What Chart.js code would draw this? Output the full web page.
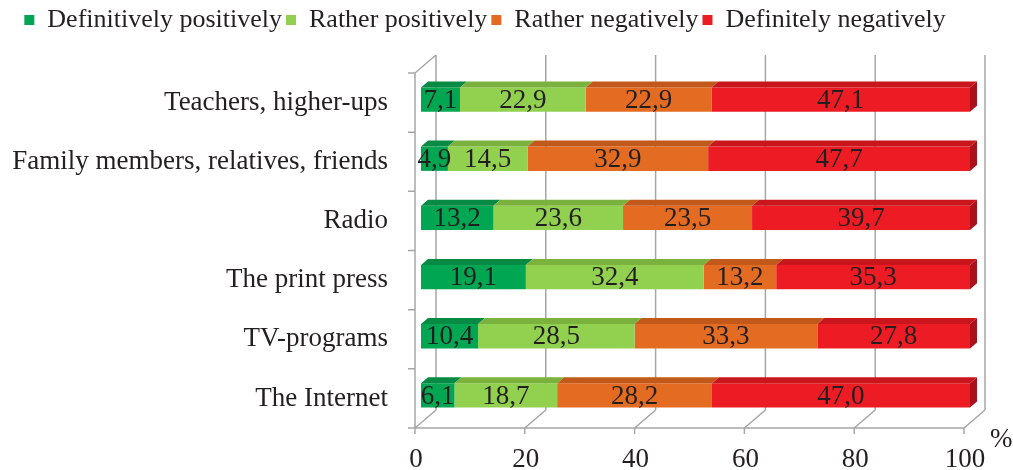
<!DOCTYPE html>
<html>
<head>
<meta charset="utf-8">
<script src="https://cdn.jsdelivr.net/npm/chart.js@4/dist/chart.umd.min.js"></script>
<style>
	html, body { margin: 0; padding: 0; background: #fff; }
	#wrap { width: 1013px; height: 470px; }
</style>
</head>
<body>
<div id="wrap"><canvas id="chart"></canvas></div>
<script>
const CATEGORIES = [
	'Teachers, higher-ups',
	'Family members, relatives, friends',
	'Radio',
	'The print press',
	'TV-programs',
	'The Internet',
]
const SERIES_NAMES = [
	'Definitively positively',
	'Rather positively',
	'Rather negatively',
	'Definitely negatively',
]
const DEF_POSITIVE = [7.1, 4.9, 13.2, 19.1, 10.4, 6.1]
const RATHER_POSITIVE = [22.9, 14.5, 23.6, 32.4, 28.5, 18.7]
const RATHER_NEGATIVE = [22.9, 32.9, 23.5, 13.2, 33.3, 28.2]
const DEF_NEGATIVE = [47.1, 47.7, 39.7, 35.3, 27.8, 47.0]
const X_TICKS = [0, 20, 40, 60, 80, 100]

const FACE = ['#00a651', '#92d050', '#e46c22', '#ed1c24']
const TOP = ['#078a43', '#7bb23e', '#c2581a', '#c9161d']
const SIDE = '#a9121a'
const FONT = '"Liberation Serif", "Times New Roman", serif'
const INK = '#231f20'
const GRID = '#a6a6a6'

// 3d offsets of front and back walls relative to the bar plane
const FX = -6, FY = 3
const BX = 15, BY = -15
const DX = 7, DY = -6

function fmt (v) {
	return v.toFixed(1).replace('.', ',')
}

const frame_plugin = {
	id: 'frame3d',
	beforeDatasetsDraw (chart) {
		const { ctx, chartArea } = chart
		const sx = chart.scales.x
		const top = chartArea.top, bottom = chartArea.bottom
		ctx.save()
		ctx.strokeStyle = GRID
		ctx.lineWidth = 1.5
		ctx.beginPath()
		for (const v of X_TICKS) {
			const x = sx.getPixelForValue(v)
			ctx.moveTo(x + BX, top + BY)
			ctx.lineTo(x + BX, bottom + BY)
			ctx.moveTo(x + FX, bottom + FY)
			ctx.lineTo(x + BX, bottom + BY)
			ctx.moveTo(x + FX, bottom + FY)
			ctx.lineTo(x + FX, bottom + FY + 6)
		}
		const x0 = sx.getPixelForValue(0)
		const x1 = sx.getPixelForValue(100)
		ctx.moveTo(x0 + FX, bottom + FY)
		ctx.lineTo(x1 + FX, bottom + FY)
		ctx.moveTo(x0 + FX, top + FY)
		ctx.lineTo(x0 + FX, bottom + FY)
		ctx.moveTo(x0 + FX, top + FY)
		ctx.lineTo(x0 + BX, top + BY)
		const band = (bottom - top) / CATEGORIES.length
		for (let i = 0; i <= CATEGORIES.length; i++) {
			const y = top + FY + band * i
			ctx.moveTo(x0 + FX - 7, y)
			ctx.lineTo(x0 + FX, y)
		}
		ctx.stroke()
		ctx.restore()
	},
	afterDatasetsDraw (chart) {
		const { ctx } = chart
		const n = chart.data.datasets.length
		ctx.save()
		chart.data.datasets.forEach(function (ds, di) {
			const meta = chart.getDatasetMeta(di)
			meta.data.forEach(function (bar) {
				const left = Math.min(bar.base, bar.x)
				const right = Math.max(bar.base, bar.x)
				const t = bar.y - bar.height / 2
				const b = bar.y + bar.height / 2
				ctx.fillStyle = TOP[di]
				ctx.beginPath()
				ctx.moveTo(left, t)
				ctx.lineTo(left + DX, t + DY)
				ctx.lineTo(right + DX, t + DY)
				ctx.lineTo(right, t)
				ctx.closePath()
				ctx.fill()
				if (di === n - 1) {
					ctx.fillStyle = SIDE
					ctx.beginPath()
					ctx.moveTo(right, t)
					ctx.lineTo(right + DX, t + DY)
					ctx.lineTo(right + DX, b + DY)
					ctx.lineTo(right, b)
					ctx.closePath()
					ctx.fill()
				}
			})
		})
		ctx.fillStyle = INK
		ctx.font = '27px ' + FONT
		ctx.textAlign = 'center'
		ctx.textBaseline = 'middle'
		chart.data.datasets.forEach(function (ds, di) {
			const meta = chart.getDatasetMeta(di)
			meta.data.forEach(function (bar, i) {
				ctx.fillText(fmt(ds.data[i]), (bar.base + bar.x) / 2, bar.y + 1)
			})
		})
		ctx.textAlign = 'left'
		ctx.fillText('%', 990, 440)
		ctx.restore()
	},
}

const all_values = [DEF_POSITIVE, RATHER_POSITIVE, RATHER_NEGATIVE, DEF_NEGATIVE]

new Chart(document.getElementById('chart'), {
	type: 'bar',
	data: {
		labels: CATEGORIES,
		datasets: all_values.map(function (values, idx) {
			return {
				label: SERIES_NAMES[idx],
				data: values,
				backgroundColor: FACE[idx],
				borderWidth: 0,
				barPercentage: 0.41,
				categoryPercentage: 1,
			}
		}),
	},
	options: {
		indexAxis: 'y',
		responsive: true,
		maintainAspectRatio: false,
		animation: false,
		layout: { padding: { left: 0, right: 43, top: 3, bottom: 0 } },
		plugins: {
			legend: {
				display: true,
				position: 'top',
				labels: {
					color: INK,
					font: { family: FONT, size: 26 },
					boxWidth: 10,
					boxHeight: 10,
					padding: 4,
				},
			},
			tooltip: { enabled: false },
		},
		scales: {
			x: {
				stacked: true,
				min: 0,
				max: 100,
				grid: { display: false },
				border: { display: false },
				afterFit (scale) { scale.height = 45 },
				ticks: {
					stepSize: 20,
					color: INK,
					font: { family: FONT, size: 27 },
					padding: 11,
					labelOffset: -5,
					maxRotation: 0,
				},
			},
			// empty top axis, only keeps the gap under the legend
			x_gap: {
				axis: 'x',
				position: 'top',
				display: true,
				grid: { display: false },
				border: { display: false },
				ticks: { display: false },
				afterFit (scale) { scale.height = 27 },
			},
			y: {
				stacked: true,
				grid: { display: false },
				border: { display: false },
				afterFit (scale) { scale.width = 421 },
				ticks: {
					color: INK,
					font: { family: FONT, size: 27 },
					padding: 25,
					labelOffset: 3,
				},
			},
		},
	},
	plugins: [frame_plugin],
})
</script>
</body>
</html>
